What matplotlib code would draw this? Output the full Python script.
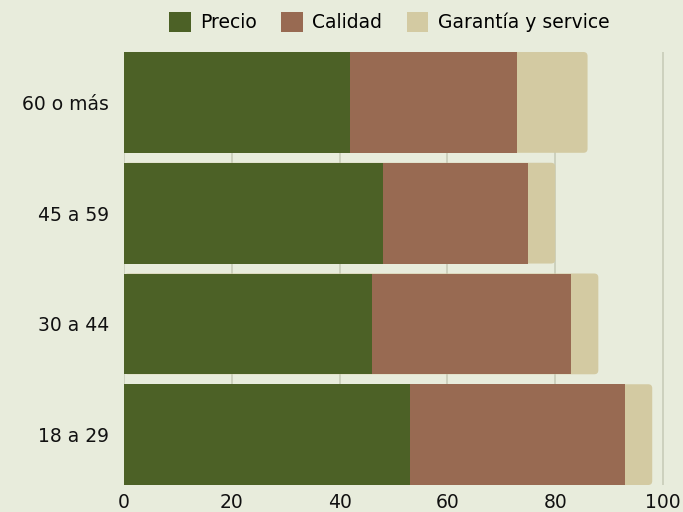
import matplotlib.pyplot as plt
from matplotlib.patches import FancyBboxPatch, Patch

# Datos
grupos = ["18 a 29", "30 a 44", "45 a 59", "60 o más"]
precio = [53, 46, 48, 42]
calidad = [40, 37, 27, 31]
garantia = [5, 5, 5, 13]

series = ["Precio", "Calidad", "Garantía y service"]
colores = ["#4c6126", "#986a52", "#d3caa2"]
fondo = "#e8ecdc"

plt.rcParams["font.family"] = ["DejaVu Sans"]

fig = plt.figure(figsize=(6.83, 5.12), dpi=100, facecolor=fondo)
ax = fig.add_axes([0.1816, 0.0527, 0.7915, 0.8457], facecolor=fondo)

alto = 0.91
ys = list(range(len(grupos)))

# tramo final con esquinas redondeadas (queda debajo de los otros dos)
for y, p, c, g in zip(ys, precio, calidad, garantia):
    total = p + c + g
    caja = FancyBboxPatch((0, y - alto / 2), total, alto,
                          boxstyle="round,pad=0,rounding_size=0.75",
                          mutation_aspect=0.049,
                          facecolor=colores[2], edgecolor="none", zorder=2)
    ax.add_patch(caja)

ax.barh(ys, precio, height=alto, color=colores[0], zorder=3)
ax.barh(ys, calidad, left=precio, height=alto, color=colores[1], zorder=3)

ax.set_xlim(0, 100.3)
ax.set_ylim(-alto / 2, len(grupos) - 1 + alto / 2)
ax.set_xticks([0, 20, 40, 60, 80, 100])
ax.set_yticks(ys)
ax.set_yticklabels(grupos)
ax.grid(axis="x", color="#c6c9b6", linewidth=1.1, zorder=1)
ax.set_axisbelow(True)
for s in ax.spines.values():
    s.set_visible(False)
ax.tick_params(length=0, labelsize=13.5, colors="#111111")
ax.tick_params(axis="y", pad=11)
ax.tick_params(axis="x", pad=6)
for t in ax.get_xticklabels() + ax.get_yticklabels():
    t.set_fontweight("medium")

handles = [Patch(facecolor=col, edgecolor="none") for col in colores]
fig.legend(handles, series, loc="center", bbox_to_anchor=(0.57, 0.957),
           ncol=3, frameon=False, fontsize=13.5, handlelength=1.15,
           handleheight=1.3, handletextpad=0.5, columnspacing=1.3)

fig.savefig("out.png", dpi=100, facecolor=fondo)
